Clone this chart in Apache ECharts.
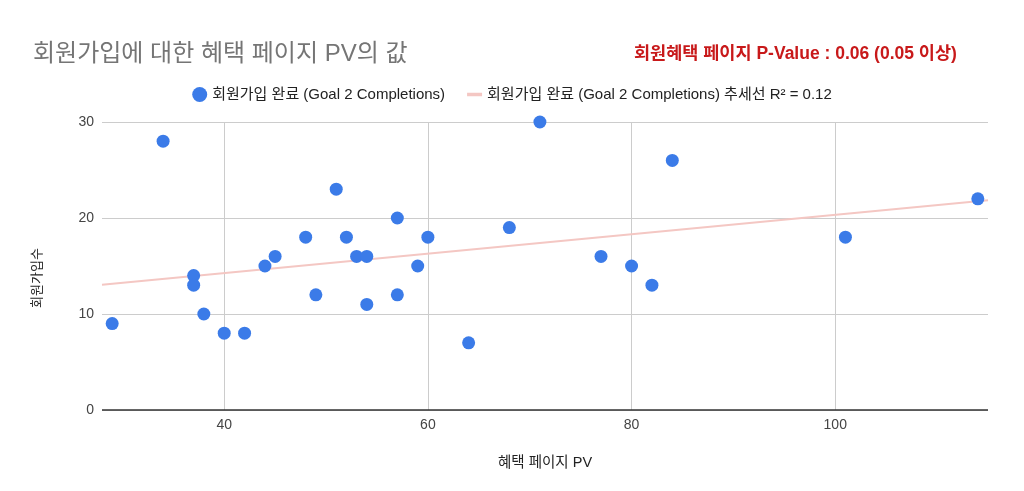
<!DOCTYPE html>
<html>
<head>
<meta charset="utf-8">
<script src="https://cdn.jsdelivr.net/npm/echarts@6/dist/echarts.min.js"></script>
<style>
  html, body { margin: 0; padding: 0; background: #fff; }
  #chart { width: 1024px; height: 491px; }
</style>
</head>
<body>
<div id="chart"></div>
<script>
// 혜택 페이지 PV vs 회원가입수
var pageViews = [29, 34, 37, 37, 38, 40, 42, 44, 45, 48, 49, 51, 52, 53, 54, 54, 57, 57, 59, 60, 64, 68, 71, 77, 80, 82, 84, 101, 114];
var signups   = [9, 28, 14, 13, 10, 8, 8, 15, 16, 18, 12, 23, 18, 16, 16, 11, 20, 12, 15, 18, 7, 19, 30, 16, 15, 13, 26, 18, 22];
var xTicks = [40, 60, 80, 100];
var yTicks = [0, 10, 20, 30];

var fontFam = "'Liberation Sans', 'Noto Sans CJK KR', sans-serif";
var xMin = 28, xMax = 115;

// least squares trend line
var n = pageViews.length, sx = 0, sy = 0, sxx = 0, sxy = 0;
for (var i = 0; i < n; i++) {
    sx += pageViews[i]; sy += signups[i];
    sxx += pageViews[i] * pageViews[i];
    sxy += pageViews[i] * signups[i];
}
var slope = (n * sxy - sx * sy) / (n * sxx - sx * sx);
var intercept = (sy - slope * sx) / n;

var points = pageViews.map(function (v, i) { return [v, signups[i]]; });
var trend = [[xMin, intercept + slope * xMin], [xMax, intercept + slope * xMax]];

var chart = echarts.init(document.getElementById('chart'));
chart.setOption({
    animation: false,
    textStyle: { fontFamily: fontFam },
    title: [{
        text: '회원가입에 대한 혜택 페이지 PV의 값',
        left: 28, top: 37,
        textStyle: { fontSize: 24, fontWeight: 'normal', color: '#757575', fontFamily: fontFam }
    }, {
        text: '회원혜택 페이지 P-Value : 0.06 (0.05 이상)',
        left: 629, top: 40,
        textStyle: { fontSize: 17.5, fontWeight: 'bold', color: '#c8191a', fontFamily: fontFam }
    }],
    legend: {
        top: 82,
        left: 'center',
        itemGap: 22,
        itemWidth: 15,
        itemHeight: 15,
        symbolKeepAspect: true,
        textStyle: { fontSize: 15, color: '#222', fontFamily: fontFam },
        data: [
            { name: '회원가입 완료 (Goal 2 Completions)', icon: 'circle' },
            { name: '회원가입 완료 (Goal 2 Completions) 추세선 R² = 0.12', icon: 'path://M0,0 H15 V3.5 H0 Z' }
        ]
    },
    grid: { left: 102, right: 36, top: 122, bottom: 81, outerBoundsMode: 'none' },
    xAxis: {
        type: 'value',
        min: xMin, max: xMax,
        name: '혜택 페이지 PV',
        nameLocation: 'middle',
        nameGap: 46,
        nameTextStyle: { fontSize: 14.5, color: '#222' },
        axisLine: { show: false },
        axisTick: { show: false, customValues: xTicks },
        axisLabel: { customValues: xTicks, margin: 8, fontSize: 14, color: '#444' },
        splitLine: { show: true, lineStyle: { color: '#cccccc', width: 1 } }
    },
    yAxis: {
        type: 'value',
        min: 0, max: 30, interval: 10,
        name: '회원가입수',
        nameLocation: 'middle',
        nameGap: 58,
        nameTextStyle: { fontSize: 13, color: '#222', padding: [0, 24, 0, 0] },
        axisLine: { show: false },
        axisTick: { show: false },
        axisLabel: { margin: 8, fontSize: 14, color: '#444' },
        splitLine: { show: true, lineStyle: { color: '#cccccc', width: 1 } }
    },
    series: [{
        name: '회원가입 완료 (Goal 2 Completions)',
        type: 'scatter',
        symbolSize: 13,
        itemStyle: { color: '#3b7be8', opacity: 1 },
        data: points,
        z: 3
    }, {
        name: '회원가입 완료 (Goal 2 Completions) 추세선 R² = 0.12',
        type: 'line',
        showSymbol: false,
        symbol: 'none',
        lineStyle: { color: '#f4c7c3', width: 2 },
        itemStyle: { color: '#f4c7c3' },
        data: trend,
        z: 2,
        markLine: {
            silent: true,
            symbol: 'none',
            label: { show: false },
            lineStyle: { color: '#333', width: 1.5, type: 'solid' },
            data: [{ yAxis: 0 }]
        }
    }]
});
</script>
</body>
</html>
